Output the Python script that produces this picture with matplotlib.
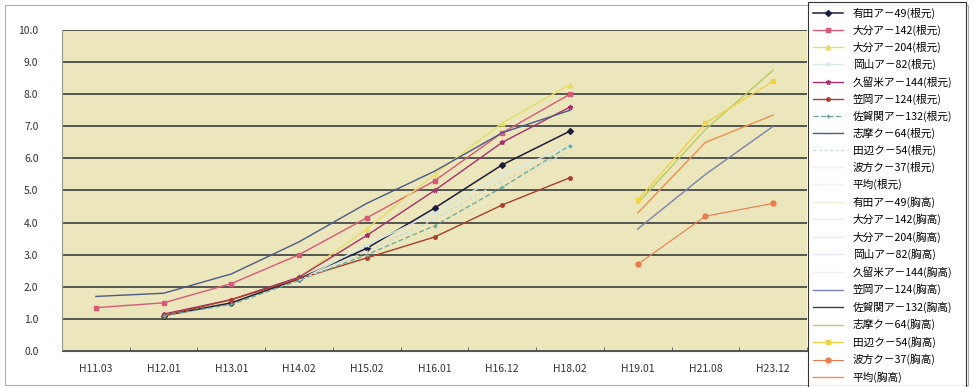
import numpy as np
import matplotlib
matplotlib.use("Agg")
import matplotlib.pyplot as plt
from matplotlib.patches import Rectangle

plt.rcParams['font.family'] = ['Noto Sans CJK JP', 'DejaVu Sans']

categories = ['H11.03', 'H12.01', 'H13.01', 'H14.02', 'H15.02', 'H16.01',
              'H16.12', 'H18.02', 'H19.01', 'H21.08', 'H23.12']

N = None
# 根元 series (H11.03 .. H18.02)
arita_ne    = [N, 1.1, 1.5, 2.25, 3.2, 4.45, 5.8, 6.85, N, N, N]
oita142_ne  = [1.35, 1.5, 2.1, 3.0, 4.15, 5.3, 6.8, 8.0, N, N, N]
oita204_ne  = [N, N, N, 2.3, 3.8, 5.5, 7.1, 8.3, N, N, N]
okayama_ne  = [N, N, N, 2.2, 3.3, 4.3, 5.5, 6.4, N, N, N]
kurume_ne   = [N, 1.15, 1.6, 2.3, 3.6, 5.0, 6.5, 7.6, N, N, N]
kasaoka_ne  = [N, 1.1, 1.6, 2.25, 2.9, 3.55, 4.55, 5.4, N, N, N]
saganoseki_ne = [N, 1.1, 1.45, 2.2, 3.0, 3.9, 5.1, 6.4, N, N, N]
shima_ne    = [1.7, 1.8, 2.4, 3.4, 4.6, 5.6, 6.8, 7.5, N, N, N]
tanabe_ne   = [N, N, N, 2.2, 3.1, 4.1, 5.3, 6.2, N, N, N]
namikata_ne = [N, N, N, N, N, N, N, N, N, N, N]
avg_ne      = [N, N, N, N, N, N, N, N, N, N, N]
# 胸高 series (H19.01 .. H23.12)
arita_mu    = [N, N, N, N, N, N, N, N, N, N, N]
oita142_mu  = [N, N, N, N, N, N, N, N, N, N, N]
oita204_mu  = [N, N, N, N, N, N, N, N, N, N, N]
okayama_mu  = [N, N, N, N, N, N, N, N, N, N, N]
kurume_mu   = [N, N, N, N, N, N, N, N, N, N, N]
kasaoka_mu  = [N, N, N, N, N, N, N, N, 3.8, 5.5, 7.0]
saganoseki_mu = [N, N, N, N, N, N, N, N, N, N, N]
shima_mu    = [N, N, N, N, N, N, N, N, 4.6, 6.9, 8.75]
tanabe_mu   = [N, N, N, N, N, N, N, N, 4.7, 7.1, 8.4]
namikata_mu = [N, N, N, N, N, N, N, N, 2.7, 4.2, 4.6]
avg_mu      = [N, N, N, N, N, N, N, N, 4.3, 6.5, 7.35]

labels = ['有田ア－49(根元)', '大分ア－142(根元)', '大分ア－204(根元)', '岡山ア－82(根元)',
          '久留米ア－144(根元)', '笠岡ア－124(根元)', '佐賀関ア－132(根元)', '志摩ク－64(根元)',
          '田辺ク－54(根元)', '波方ク－37(根元)', '平均(根元)',
          '有田ア－49(胸高)', '大分ア－142(胸高)', '大分ア－204(胸高)', '岡山ア－82(胸高)',
          '久留米ア－144(胸高)', '笠岡ア－124(胸高)', '佐賀関ア－132(胸高)', '志摩ク－64(胸高)',
          '田辺ク－54(胸高)', '波方ク－37(胸高)', '平均(胸高)']

series = [arita_ne, oita142_ne, oita204_ne, okayama_ne, kurume_ne, kasaoka_ne,
          saganoseki_ne, shima_ne, tanabe_ne, namikata_ne, avg_ne,
          arita_mu, oita142_mu, oita204_mu, okayama_mu, kurume_mu, kasaoka_mu,
          saganoseki_mu, shima_mu, tanabe_mu, namikata_mu, avg_mu]

styles = [
    dict(color='#1c1c3c', marker='D', ms=3.0, lw=1.1),
    dict(color='#d85a78', marker='s', ms=3.5, lw=1.0),
    dict(color='#e6de6a', marker='^', ms=3.5, lw=1.0),
    dict(color='#d6e8ea', marker='x', ms=3, lw=1.0),
    dict(color='#a8306a', marker='*', ms=3.5, lw=1.0),
    dict(color='#a8402c', marker='o', ms=2.5, lw=1.0),
    dict(color='#6aa49a', marker='+', ms=3, lw=0.9, ls=(0, (4, 2))),
    dict(color='#4c5a88', marker='', ms=3, lw=1.0),
    dict(color='#c6dce6', marker='', ms=3, lw=1.0, ls=(0, (2, 2))),
    dict(color='#eef4f2', marker='', ms=3, lw=1.0),
    dict(color='#eef4ea', marker='', ms=3, lw=1.0),
    dict(color='#f2f0d8', marker='', ms=3, lw=1.0),
    dict(color='#e8ecf2', marker='', ms=3, lw=1.0),
    dict(color='#f2e8ec', marker='', ms=3, lw=1.0),
    dict(color='#e8e4f0', marker='', ms=3, lw=1.0),
    dict(color='#f4f0ea', marker='', ms=3, lw=1.0),
    dict(color='#7a84ac', marker='', ms=3, lw=1.0),
    dict(color='#404040', marker='', ms=3, lw=1.0),
    dict(color='#b8cc60', marker='', ms=3, lw=1.0),
    dict(color='#eed24a', marker='s', ms=3.5, lw=1.0),
    dict(color='#ee7a50', marker='o', ms=3.5, lw=0.8),
    dict(color='#ee9050', marker='', ms=3, lw=1.0),
]

fig = plt.figure(figsize=(9.73, 3.87), dpi=100)
fig.patch.set_facecolor('white')
ax = fig.add_axes([62/973, 1-351/387, (807-62)/973, (351-30)/387])
ax.set_facecolor('#ebe6bb')

x = np.arange(len(categories))
handles = []
for vals, lab, st in zip(series, labels, styles):
    y = np.array([np.nan if v is None else v for v in vals], dtype=float)
    h, = ax.plot(x, y, label=lab, color=st['color'], marker=st['marker'] or None,
                 ms=st['ms'], lw=st['lw'], ls=st.get('ls', '-'),
                 mec=st['color'], mfc=st['color'])
    handles.append(h)

ax.set_xlim(-0.5, len(categories) - 0.5)
ax.set_ylim(0, 10)
ax.set_yticks(np.arange(0, 11, 1))
ax.set_yticklabels([f'{v:.1f}' for v in np.arange(0, 11, 1)])
ax.set_xticks(x)
ax.set_xticklabels(categories)
ax.set_xticks(np.arange(-0.5, len(categories), 1), minor=True)
ax.tick_params(axis='x', which='major', length=0, pad=9, labelsize=7.5, labelcolor='#333333')
ax.tick_params(axis='x', which='minor', length=3, direction='in', color='#555555')
ax.tick_params(axis='y', length=0, pad=17, labelsize=7.5, labelcolor='#333333')
ax.yaxis.grid(True, color='#4a4a4a', lw=1.3)
ax.set_axisbelow(True)
for s in ['top', 'right']:
    ax.spines[s].set_visible(False)
ax.spines['left'].set_color('#9a9a90')
ax.spines['bottom'].set_color('#555555')

leg = fig.legend(handles=handles, loc='upper left',
                 bbox_to_anchor=(808/973, 1 - 385/387, (966-808)/973, (385-2)/387),
                 mode='expand', fontsize=7.7, frameon=True, fancybox=False,
                 edgecolor='black', labelspacing=0.56, handlelength=2.8,
                 handletextpad=0.9, borderpad=0.5, borderaxespad=0.0)
leg.get_frame().set_linewidth(0.8)

fig.patches.append(Rectangle((5/973, 2/387), (968-5)/973, (382-2)/387,
                             transform=fig.transFigure, fill=False,
                             edgecolor='#b0b0b0', lw=0.8))

fig.savefig('out.png', dpi=100)
